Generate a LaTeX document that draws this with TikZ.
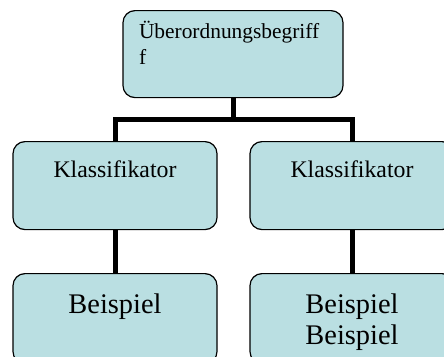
\documentclass[tikz,border=0pt]{standalone}
\usepackage{fontspec}
\setmainfont{Liberation Serif}
\usepackage{tikz}
\definecolor{boxfill}{RGB}{186,223,226}
\tikzset{
  box/.style={draw=black,line width=1.2pt,fill=boxfill,rounded corners=12pt,
    text width=204pt,inner xsep=0pt,inner ysep=0pt,anchor=north,align=center},
  conn/.style={line width=5pt,line join=miter}
}

\begin{document}
\begin{tikzpicture}[x=1pt,y=-1pt]
    \useasboundingbox (0,0) rectangle (444,356);
    \clip (0,0) rectangle (444,356);
    \node[box,text width=188pt,inner xsep=16pt,align=left,text height=28pt,text depth=59pt,
      font=\fontsize{21.4}{25.5}\selectfont] (top) at (233,10) {Überordnungsbegriff\\f};
    \node[box,text height=36pt,text depth=52pt,font=\fontsize{23.8}{27}\selectfont]
      (kl1) at (115,141) {Klassifikator};
    \node[box,text height=36pt,text depth=52pt,font=\fontsize{23.8}{27}\selectfont]
      (kl2) at (352,141) {Klassifikator};
    \node[box,text height=40pt,text depth=50pt,font=\fontsize{28.4}{31}\selectfont]
      (bsp1) at (115,273) {Beispiel};
    \node[box,text height=40pt,text depth=50pt,font=\fontsize{28.4}{31}\selectfont]
      (bsp2) at (352,273) {Beispiel\\Beispiel};
    \draw[conn] (top.south) -- ++(0,21) -| (kl1.north);
    \draw[conn] (top.south) -- ++(0,21) -| (kl2.north);
    \draw[conn] (kl1.south) -- (bsp1.north);
    \draw[conn] (kl2.south) -- (bsp2.north);
\end{tikzpicture}
\end{document}
